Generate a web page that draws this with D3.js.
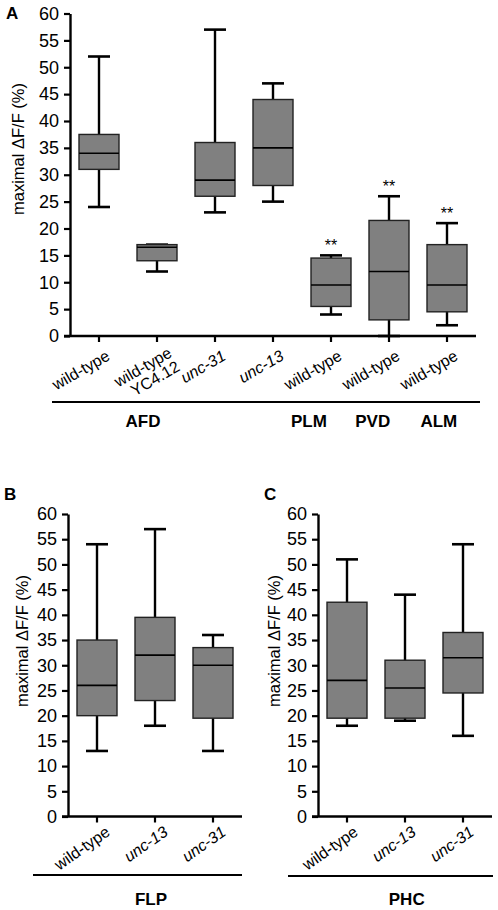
<!DOCTYPE html>
<html>
<head>
<meta charset="utf-8">
<script src="https://cdn.jsdelivr.net/npm/d3@7"></script>
<style>
  html, body { margin: 0; padding: 0; background: #fff; }
  svg { display: block; font-family: "Liberation Sans", Arial, sans-serif; }
</style>
</head>
<body>
<svg id="chart" width="498" height="910"></svg>
<script>
// ---------------- DATA ----------------
// Panel A
const catsA = ["wild-type", "wild-type\nYC4.12", "unc-31", "unc-13", "wild-type", "wild-type", "wild-type"];
const minA  = [24, 12, 23, 25, 4, 0, 2];
const q1A   = [31, 14, 26, 28, 5.5, 3, 4.5];
const medA  = [34, 16.5, 29, 35, 9.5, 12, 9.5];
const q3A   = [37.5, 17, 36, 44, 14.5, 21.5, 17];
const maxA  = [52, 17, 57, 47, 15, 26, 21];
const sigA  = ["", "", "", "", "**", "**", "**"];
const groupsA = ["AFD", "PLM", "PVD", "ALM"];

// Panel B (FLP)
const catsB = ["wild-type", "unc-13", "unc-31"];
const minB  = [13, 18, 13];
const q1B   = [20, 23, 19.5];
const medB  = [26, 32, 30];
const q3B   = [35, 39.5, 33.5];
const maxB  = [54, 57, 36];
const groupB = "FLP";

// Panel C (PHC)
const catsC = ["wild-type", "unc-13", "unc-31"];
const minC  = [18, 19, 16];
const q1C   = [19.5, 19.5, 24.5];
const medC  = [27, 25.5, 31.5];
const q3C   = [42.5, 31, 36.5];
const maxC  = [51, 44, 54];
const groupC = "PHC";

const yTicks = [0, 5, 10, 15, 20, 25, 30, 35, 40, 45, 50, 55, 60];
const yLabel = "maximal ΔF/F (%)";

// ---------------- DRAW ----------------
const svg = d3.select("#chart");
const FILL = "#808080";

function isItalic(s) { return /^unc-/.test(s); }

function drawPanel(opt) {
  const g = svg.append("g");
  const n = opt.cats.length;
  const x = d3.scaleBand().domain(d3.range(n)).range([opt.x0, opt.x1]).padding(0);
  const y = d3.scaleLinear().domain([0, 60]).range([opt.yBottom, opt.yTop]);
  const cx = i => x(i) + x.bandwidth() / 2;

  // y axis
  const ya = g.append("g").attr("transform", `translate(${opt.x0},0)`)
    .call(d3.axisLeft(y).tickValues(yTicks).tickSize(6).tickSizeOuter(0).tickPadding(5));
  ya.select(".domain").attr("stroke", "#000").attr("stroke-width", 2.4);
  ya.selectAll(".tick line").attr("stroke", "#000").attr("stroke-width", 2.2);
  ya.selectAll(".tick text").attr("font-size", 18).attr("fill", "#000")
    .attr("font-family", "Liberation Sans, Arial, sans-serif");

  // x axis
  const xa = g.append("g").attr("transform", `translate(0,${opt.yBottom})`)
    .call(d3.axisBottom(x).tickSize(6).tickSizeOuter(0).tickFormat(""));
  xa.select(".domain").attr("stroke", "#000").attr("stroke-width", 2.4)
    .attr("d", `M${opt.x0 - 6},0H${opt.x1}`);
  xa.selectAll(".tick line").attr("stroke", "#000").attr("stroke-width", 2.2);

  // x tick labels (rotated)
  opt.cats.forEach((c, i) => {
    const lines = c.split("\n");
    const multi = lines.length > 1;
    const ax = cx(i) + (multi ? opt.lab.mx : opt.lab.dx);
    const ay = opt.yBottom + (multi ? opt.lab.my : opt.lab.dy);
    const t = g.append("text")
      .attr("transform", `translate(${ax},${ay}) rotate(${opt.lab.rot})`)
      .attr("text-anchor", "end")
      .attr("font-size", opt.lab.size)
      .attr("fill", "#000")
      .attr("font-style", isItalic(c) ? "italic" : "normal");
    lines.forEach((ln, k) => {
      t.append("tspan").attr("x", 0).attr("dy", k === 0 ? 0 : "1.0em").text(ln);
    });
  });

  // boxes
  const bw = 40, cw = 22;
  const idx = d3.range(n);
  g.selectAll(".wh").data(idx).enter().append("line")
    .attr("x1", cx).attr("x2", cx)
    .attr("y1", i => y(opt.max[i])).attr("y2", i => y(opt.min[i]))
    .attr("stroke", "#000").attr("stroke-width", 2.4);
  ["max", "min"].forEach(k => {
    g.selectAll(".cap" + k).data(idx).enter().append("line")
      .attr("x1", i => cx(i) - cw / 2).attr("x2", i => cx(i) + cw / 2)
      .attr("y1", i => y(opt[k][i])).attr("y2", i => y(opt[k][i]))
      .attr("stroke", "#000").attr("stroke-width", 2.6);
  });
  g.selectAll(".box").data(idx).enter().append("rect")
    .attr("x", i => cx(i) - bw / 2).attr("width", bw)
    .attr("y", i => y(opt.q3[i])).attr("height", i => y(opt.q1[i]) - y(opt.q3[i]))
    .attr("fill", FILL).attr("stroke", "#222").attr("stroke-width", 1.4);
  g.selectAll(".med").data(idx).enter().append("line")
    .attr("x1", i => cx(i) - bw / 2).attr("x2", i => cx(i) + bw / 2)
    .attr("y1", i => y(opt.med[i])).attr("y2", i => y(opt.med[i]))
    .attr("stroke", "#000").attr("stroke-width", 1.6);

  if (opt.sig) {
    g.selectAll(".sig").data(idx.filter(i => opt.sig[i])).enter().append("text")
      .attr("x", cx).attr("y", i => y(opt.max[i]) - 4)
      .attr("text-anchor", "middle").attr("font-size", 16).attr("fill", "#000")
      .text(i => opt.sig[i]);
  }

  // y label
  g.append("text")
    .attr("transform", `translate(${opt.yl.x},${opt.yl.y}) rotate(-90)`)
    .attr("text-anchor", "middle").attr("font-size", 16.5).attr("fill", "#000")
    .text(yLabel);

  // panel letter
  g.append("text").attr("x", opt.letter.x).attr("y", opt.letter.y)
    .attr("font-size", 17).attr("font-weight", "bold").attr("fill", "#000")
    .text(opt.letter.t);

  // group line
  g.append("line")
    .attr("x1", opt.gline.x1).attr("x2", opt.gline.x2)
    .attr("y1", opt.gline.y).attr("y2", opt.gline.y)
    .attr("stroke", "#000").attr("stroke-width", 2.2);

  // group labels
  const gi = d3.scaleLinear().domain([0, n]).range([opt.x0, opt.x1]);
  opt.groups.forEach((lab, k) => {
    g.append("text")
      .attr("x", gi(opt.groupPos[k] + 0.5)).attr("y", opt.gline.labY)
      .attr("text-anchor", "middle").attr("font-size", 17).attr("font-weight", "bold")
      .attr("fill", "#000").text(lab);
  });
}

drawPanel({
  cats: catsA, min: minA, q1: q1A, med: medA, q3: q3A, max: maxA, sig: sigA,
  x0: 70, x1: 476, yBottom: 336, yTop: 13.5,
  lab: { rot: -30, size: 16, dx: 12, dy: 23, mx: 16, my: 20 },
  yl: { x: 24, y: 149 },
  letter: { t: "A", x: 6, y: 19 },
  gline: { x1: 52, x2: 480, y: 402, labY: 427 },
  groups: groupsA, groupPos: [0.76, 3.62, 4.72, 5.86]
});

drawPanel({
  cats: catsB, min: minB, q1: q1B, med: medB, q3: q3B, max: maxB,
  x0: 68, x1: 242, yBottom: 816.5, yTop: 514,
  lab: { rot: -35, size: 16, dx: 14, dy: 18, mx: 14, my: 18 },
  yl: { x: 28, y: 641 },
  letter: { t: "B", x: 4, y: 500 },
  gline: { x1: 33, x2: 242, y: 875, labY: 905 },
  groups: [groupB], groupPos: [0.93]
});

drawPanel({
  cats: catsC, min: minC, q1: q1C, med: medC, q3: q3C, max: maxC,
  x0: 318, x1: 492, yBottom: 816.5, yTop: 514,
  lab: { rot: -35, size: 16, dx: 12, dy: 18, mx: 12, my: 18 },
  yl: { x: 280, y: 641 },
  letter: { t: "C", x: 264, y: 500 },
  gline: { x1: 288, x2: 493, y: 876, labY: 905 },
  groups: [groupC], groupPos: [1.03]
});
</script>
</body>
</html>
